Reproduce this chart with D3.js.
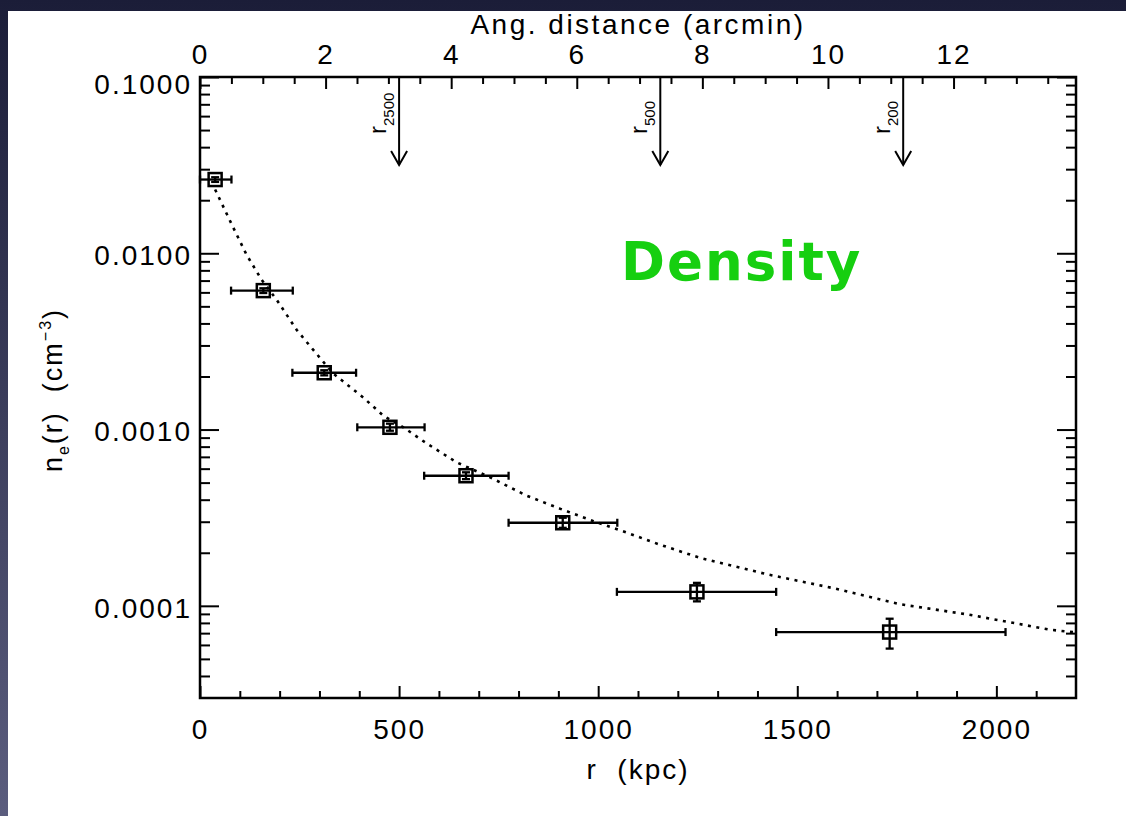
<!DOCTYPE html>
<html>
<head>
<meta charset="utf-8">
<script src="https://cdn.jsdelivr.net/npm/d3@7"></script>
<style>
  body { margin: 0; background: #fff; }
  text { font-family: "Liberation Sans", Arial, sans-serif; white-space: pre; }
</style>
</head>
<body>
<div id="chart"></div>
<script>
var w = 1126;
var h = 816;

// *** DATA ***
// radius of each annulus in kpc, with its radial extent
var radius   = [38, 159, 312, 477, 668, 911, 1248, 1732];
var radiusLo = [0, 78, 232, 395, 563, 775, 1047, 1447];
var radiusHi = [79, 233, 392, 564, 775, 1048, 1447, 2023];
// electron density in cm^-3
var density   = [0.0262, 0.00614, 0.00210, 0.00103, 0.000547, 0.000296, 0.000120, 0.0000710];
var densityLo = [0.0254, 0.00595, 0.00203, 0.000985, 0.000523, 0.000277, 0.000106, 0.0000572];
var densityHi = [0.0270, 0.00633, 0.00217, 0.00108, 0.000572, 0.000316, 0.000135, 0.0000845];

// best-fit model (dotted curve)
var modelR = [38, 80, 117, 155, 193, 243, 285, 334, 410, 460, 515, 570, 645, 729, 821,
              905, 987, 1072, 1151, 1256, 1424, 1590, 1759, 1926, 2136, 2200];
var modelN = [0.0230, 0.01453, 0.00980, 0.00706, 0.00543, 0.00367, 0.00282, 0.002085,
              0.00152, 0.00120, 0.001014, 0.000832, 0.000651, 0.000535, 0.000421,
              0.000355, 0.000303, 0.000260, 0.000224, 0.000187, 0.000151, 0.000126,
              0.000102, 0.0000895, 0.0000731, 0.0000706];

// overdensity radii marked by arrows
var overdensity = ["2500", "500", "200"];
var overdensityR = [500, 1156, 1766];

var xTicks = [0, 500, 1000, 1500, 2000];
var xMinorTicks = [100, 200, 300, 400, 600, 700, 800, 900, 1100, 1200, 1300, 1400,
                   1600, 1700, 1800, 1900, 2100];
var yTicks = [0.1, 0.01, 0.001, 0.0001];
var arcTicks = [0, 2, 4, 6, 8, 10, 12];
// **************************

var margin = {top: 77, right: 50, bottom: 118, left: 200},
    width = w - margin.left - margin.right,
    height = h - margin.top - margin.bottom;

var svg = d3.select("#chart")
    .append("svg")
    .attr("width", w)
    .attr("height", h);

// dark slide background with white panel
var grad = svg.append("defs").append("linearGradient")
    .attr("id", "bg").attr("x1", 0).attr("y1", 0).attr("x2", 0).attr("y2", 1);
grad.append("stop").attr("offset", "0%").attr("stop-color", "#1b1d38");
grad.append("stop").attr("offset", "100%").attr("stop-color", "#5b5d7e");
svg.append("rect").attr("width", w).attr("height", h).attr("fill", "url(#bg)");
svg.append("rect").attr("x", 8).attr("y", 11).attr("width", w - 8).attr("height", h - 11)
    .attr("fill", "#fff");

var x = d3.scaleLinear().domain([0, 2200]).range([0, width]),
    xTop = d3.scaleLinear().domain([0, 13.95]).range([0, width]),
    y = d3.scaleLog().domain([3e-5, 0.1]).range([height, 0]);

var g = svg.append("g")
    .attr("transform", "translate(" + margin.left + "," + margin.top + ")");

// minor log ticks
var yMinorTicks = [];
[1e-5, 1e-4, 1e-3, 1e-2].forEach(function(e) {
  for (var k = 2; k <= 9; k++) {
    var v = k * e;
    if (v > 3.5e-5 && v < 0.1) yMinorTicks.push(v);
  }
});
var arcMinorTicks = d3.range(0.5, 13.95, 0.5).filter(function(d) { return d % 2 !== 0; });

function styleAxis(sel, size) {
  sel.select(".domain").remove();
  sel.selectAll("line").attr("stroke", "#000").attr("stroke-width", 2);
  sel.selectAll("text")
      .attr("fill", "#000")
      .style("font-size", (size || 28) + "px")
      .style("letter-spacing", "2px");
}

// bottom axis (kpc)
g.append("g")
    .attr("transform", "translate(0," + height + ")")
    .call(d3.axisBottom(x).tickValues(xTicks).tickSize(-12).tickPadding(21)
      .tickFormat(d3.format("d")))
    .call(styleAxis);
g.append("g")
    .attr("transform", "translate(0," + height + ")")
    .call(d3.axisBottom(x).tickValues(xMinorTicks).tickSize(-7).tickFormat(""))
    .call(styleAxis);

// top axis (arcmin)
g.append("g")
    .call(d3.axisTop(xTop).tickValues(arcTicks).tickSize(-12).tickPadding(13))
    .call(styleAxis);
g.append("g")
    .call(d3.axisTop(xTop).tickValues(arcMinorTicks).tickSize(-7).tickFormat(""))
    .call(styleAxis);

// left axis
g.append("g")
    .call(d3.axisLeft(y).tickValues(yTicks).tickSize(-19).tickPadding(8)
      .tickFormat(d3.format(".4f")))
    .call(styleAxis)
    .selectAll("text")
      .attr("dy", function(d) { return d === 0.1 ? "0.6em" : "0.4em"; });
g.append("g")
    .call(d3.axisLeft(y).tickValues(yMinorTicks).tickSize(-10).tickFormat(""))
    .call(styleAxis);

// right axis
g.append("g")
    .attr("transform", "translate(" + width + ",0)")
    .call(d3.axisRight(y).tickValues(yTicks).tickSize(-19).tickFormat(""))
    .call(styleAxis);
g.append("g")
    .attr("transform", "translate(" + width + ",0)")
    .call(d3.axisRight(y).tickValues(yMinorTicks).tickSize(-10).tickFormat(""))
    .call(styleAxis);

// frame
g.append("rect")
    .attr("width", width)
    .attr("height", height)
    .attr("fill", "none")
    .attr("stroke", "#000")
    .attr("stroke-width", 2.5);

// axis titles
svg.append("text")
    .attr("x", margin.left + width / 2)
    .attr("y", 34)
    .attr("text-anchor", "middle")
    .style("font-size", "28px")
    .style("letter-spacing", "2.5px")
    .text("Ang. distance (arcmin)");

svg.append("text")
    .attr("x", margin.left + width / 2)
    .attr("y", 779)
    .attr("text-anchor", "middle")
    .style("font-size", "28px")
    .style("letter-spacing", "2px")
    .text("r  (kpc)");

var yl = svg.append("text")
    .attr("transform", "translate(62,390) rotate(-90)")
    .attr("text-anchor", "middle")
    .style("font-size", "27px")
    .style("letter-spacing", "2px");
yl.append("tspan").text("n");
yl.append("tspan").attr("dy", 7).style("font-size", "16px").text("e");
yl.append("tspan").attr("dy", -7).text("(r)  (cm");
yl.append("tspan").attr("dy", -11).style("font-size", "16px").text("\u22123");
yl.append("tspan").attr("dy", 11).text(")");

// model curve
var model = modelR.map(function(r, i) { return [r, modelN[i]]; });
g.append("path")
    .datum(model)
    .attr("fill", "none")
    .attr("stroke", "#000")
    .attr("stroke-width", 2.6)
    .attr("stroke-dasharray", "3,5.5")
    .attr("d", d3.line()
      .x(function(d) { return x(d[0]); })
      .y(function(d) { return y(d[1]); }));

// data points with error bars
var pts = g.selectAll(".pt")
    .data(radius.map(function(r, i) {
      return {r: r, rLo: radiusLo[i], rHi: radiusHi[i],
              n: density[i], nLo: densityLo[i], nHi: densityHi[i]};
    }))
    .enter().append("g")
    .attr("class", "pt")
    .attr("stroke", "#000")
    .attr("fill", "none");

pts.append("line")
    .attr("stroke-width", 2.3)
    .attr("x1", function(d) { return x(d.rLo); })
    .attr("x2", function(d) { return x(d.rHi); })
    .attr("y1", function(d) { return y(d.n); })
    .attr("y2", function(d) { return y(d.n); });
["rLo", "rHi"].forEach(function(k) {
  pts.append("line")
      .attr("stroke-width", 2.3)
      .attr("x1", function(d) { return x(d[k]); })
      .attr("x2", function(d) { return x(d[k]); })
      .attr("y1", function(d) { return y(d.n) - 4; })
      .attr("y2", function(d) { return y(d.n) + 4; });
});
pts.append("line")
    .attr("stroke-width", 2.3)
    .attr("x1", function(d) { return x(d.r); })
    .attr("x2", function(d) { return x(d.r); })
    .attr("y1", function(d) { return y(d.nHi); })
    .attr("y2", function(d) { return y(d.nLo); });
["nLo", "nHi"].forEach(function(k) {
  pts.append("line")
      .attr("stroke-width", 2.3)
      .attr("x1", function(d) { return x(d.r) - 4; })
      .attr("x2", function(d) { return x(d.r) + 4; })
      .attr("y1", function(d) { return y(d[k]); })
      .attr("y2", function(d) { return y(d[k]); });
});
pts.append("rect")
    .attr("stroke-width", 2.5)
    .attr("x", function(d) { return x(d.r) - 6.5; })
    .attr("y", function(d) { return y(d.n) - 6.5; })
    .attr("width", 13)
    .attr("height", 13);

// overdensity arrows
var arrows = g.selectAll(".arrow")
    .data(overdensityR.map(function(r, i) { return {r: r, label: overdensity[i]}; }))
    .enter().append("g")
    .attr("class", "arrow")
    .attr("transform", function(d) { return "translate(" + x(d.r) + ",0)"; });
arrows.append("line")
    .attr("y1", 0).attr("y2", 88)
    .attr("stroke", "#000").attr("stroke-width", 2);
arrows.append("path")
    .attr("d", "M-8,74L0,88L8,74")
    .attr("fill", "none").attr("stroke", "#000").attr("stroke-width", 2);
var al = arrows.append("text")
    .attr("transform", "translate(-13,57) rotate(-90)")
    .style("font-size", "24px");
al.append("tspan").text("r");
al.append("tspan").attr("dy", 8).style("font-size", "15px")
    .text(function(d) { return d.label; });

// slide annotation
svg.append("text")
    .attr("x", 621)
    .attr("y", 280)
    .attr("fill", "#16cf10")
    .style("font-family", "'DejaVu Sans', sans-serif")
    .style("font-weight", "bold")
    .style("font-size", "53px")
    .style("letter-spacing", "2px")
    .text("Density");
</script>
</body>
</html>
